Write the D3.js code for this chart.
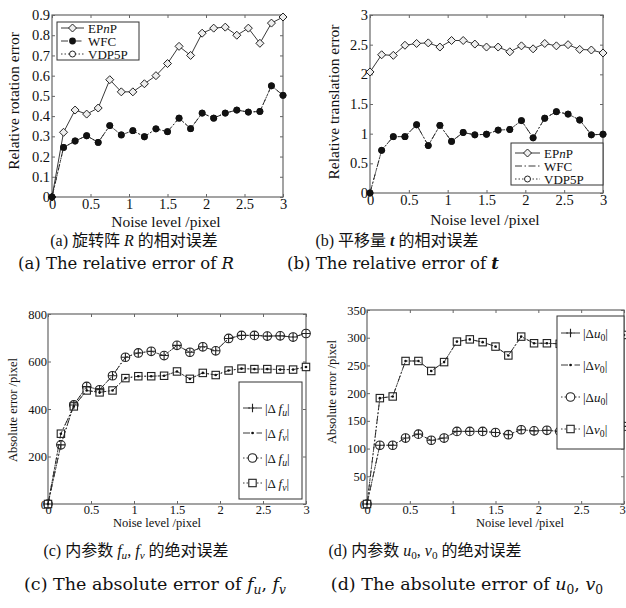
<!DOCTYPE html>
<html>
<head>
<meta charset="utf-8">
<script src="https://cdn.jsdelivr.net/npm/d3@7"></script>
<style>
  body { margin: 0; background: white; }
  svg text { font-family: "Liberation Serif", "Noto Sans CJK SC", serif; fill: #111; }
</style>
</head>
<body>
<div id="chart"></div>
<script>
// noise levels (x) shared by all four panels
const noise = [0, 0.15, 0.3, 0.45, 0.6, 0.75, 0.9, 1.05, 1.2, 1.35, 1.5, 1.65, 1.8, 1.95, 2.1, 2.25, 2.4, 2.55, 2.7, 2.85, 3];
const xTicks = [0, 0.5, 1, 1.5, 2, 2.5, 3];

// (a) relative rotation error
const rotEPnP   = [0, 0.32, 0.43, 0.41, 0.44, 0.58, 0.52, 0.52, 0.56, 0.60, 0.66, 0.745, 0.70, 0.81, 0.835, 0.84, 0.80, 0.835, 0.76, 0.86, 0.89];
const rotWFC    = [0, 0.245, 0.277, 0.303, 0.27, 0.353, 0.307, 0.328, 0.298, 0.337, 0.323, 0.39, 0.338, 0.415, 0.39, 0.415, 0.43, 0.42, 0.423, 0.55, 0.503];
const rotVDP5P  = [0, 0.245, 0.277, 0.303, 0.27, 0.353, 0.307, 0.328, 0.298, 0.337, 0.323, 0.39, 0.338, 0.415, 0.39, 0.415, 0.43, 0.42, 0.423, 0.55, 0.503];
const rotTicks  = [0, 0.1, 0.2, 0.3, 0.4, 0.5, 0.6, 0.7, 0.8, 0.9];

// (b) relative translation error
const transEPnP  = [2.04, 2.33, 2.32, 2.49, 2.52, 2.53, 2.46, 2.57, 2.57, 2.51, 2.46, 2.46, 2.38, 2.48, 2.43, 2.52, 2.48, 2.50, 2.42, 2.41, 2.36];
const transWFC   = [0, 0.72, 0.95, 0.95, 1.15, 0.80, 1.14, 0.87, 1.02, 0.98, 0.99, 1.06, 1.07, 1.22, 0.93, 1.26, 1.37, 1.33, 1.23, 0.98, 0.99];
const transVDP5P = [0, 0.72, 0.95, 0.95, 1.15, 0.80, 1.14, 0.87, 1.02, 0.98, 0.99, 1.06, 1.07, 1.22, 0.93, 1.26, 1.37, 1.33, 1.23, 0.98, 0.99];
const transTicks = [0, 0.5, 1, 1.5, 2, 2.5, 3];

// (c) absolute error of fu, fv
const fuErr  = [0, 249, 417, 495, 481, 540, 618, 636, 643, 625, 668, 639, 662, 645, 697, 710, 710, 707, 708, 703, 718];
const fvErr  = [0, 296, 411, 478, 470, 478, 530, 538, 538, 540, 558, 527, 552, 543, 562, 570, 568, 568, 566, 566, 577];
const fTicks = [0, 200, 400, 600, 800];

// (d) absolute error of u0, v0
const u0Err  = [0, 106, 106, 119, 126, 115, 119, 131, 131, 131, 129, 125, 134, 132, 133, 131, 134, 136, 137, 138, 140];
const v0Err  = [0, 191, 194, 258, 258, 240, 256, 293, 297, 292, 284, 268, 302, 290, 290, 289, 295, 298, 300, 302, 305];
const uvTicks = [0, 50, 100, 150, 200, 250, 300, 350];

const svg = d3.select("#chart").append("svg")
    .attr("width", 626)
    .attr("height", 608);

const serif = "'Liberation Serif', 'Noto Sans CJK SC', serif";
const capSerif = "'DejaVu Serif', 'Noto Sans CJK SC', serif";
const lineCol = "#222";
const boxCol = "#666";
const dashDot = "7,2.5,1.5,2.5";
const dotted = "1.5,2";

// marker drawing
function marker(g, type, x, y) {
    if (type == "diamond") {
        g.append("path").attr("d", `M${x},${y-4}L${x+4},${y}L${x},${y+4}L${x-4},${y}Z`)
            .attr("fill", "#eee").attr("stroke", lineCol).attr("stroke-width", 1);
    } else if (type == "dot") {
        g.append("circle").attr("cx", x).attr("cy", y).attr("r", 3.4).attr("fill", "#111");
    } else if (type == "ocircle") {
        g.append("circle").attr("cx", x).attr("cy", y).attr("r", 3)
            .attr("fill", "white").attr("stroke", lineCol).attr("stroke-width", 1);
    } else if (type == "bigcircle") {
        g.append("circle").attr("cx", x).attr("cy", y).attr("r", 4.3)
            .attr("fill", "white").attr("stroke", lineCol).attr("stroke-width", 1.1);
    } else if (type == "plus") {
        g.append("path").attr("d", `M${x-4.3},${y}H${x+4.3}M${x},${y-4.3}V${y+4.3}`)
            .attr("stroke", lineCol).attr("stroke-width", 1.1);
    } else if (type == "square") {
        g.append("rect").attr("x", x-3.7).attr("y", y-3.7).attr("width", 7.4).attr("height", 7.4)
            .attr("fill", "white").attr("stroke", lineCol).attr("stroke-width", 1.1);
    } else if (type == "smalldot") {
        g.append("circle").attr("cx", x).attr("cy", y).attr("r", 1.3).attr("fill", "#111");
    }
}

// rich text with italic / subscript / bold parts
function richText(sel, parts, subSize) {
    parts.forEach(p => {
        const t = sel.append("tspan").text(p.t);
        if (p.it) t.style("font-style", "italic");
        if (p.bold) t.style("font-weight", "bold");
        if (p.sub) t.attr("baseline-shift", "-30%").style("font-size", subSize);
    });
}

function drawPanel(p) {
    const g = svg.append("g");
    const x = d3.scaleLinear().domain([0, 3]).range([p.left, p.right]);
    const y = d3.scaleLinear().domain([0, p.yMax]).range([p.bottom, p.top]);
    const fmt = d3.format("~g");

    const styleAxis = a => {
        a.select(".domain").remove();
        a.attr("font-family", null);
        a.selectAll("line").attr("stroke", boxCol);
        a.selectAll("text").style("font-family", serif).style("font-size", p.tickSize + "px").attr("fill", "#111");
    };

    g.append("g")
        .attr("transform", `translate(0,${p.bottom})`)
        .call(d3.axisBottom(x).tickValues(xTicks).tickFormat(fmt).tickSize(-3).tickPadding(p.tickPad))
        .call(styleAxis)
        .call(a => a.selectAll("text").filter(d => d == 3).attr("dx", p.lastDx || 0));
    g.append("g")
        .attr("transform", `translate(0,${p.top})`)
        .call(d3.axisTop(x).tickValues(xTicks).tickFormat("").tickSize(-3))
        .call(styleAxis);
    g.append("g")
        .attr("transform", `translate(${p.left},0)`)
        .call(d3.axisLeft(y).tickValues(p.yTicks).tickFormat(fmt).tickSize(-3).tickPadding(p.tickPad))
        .call(styleAxis);
    g.append("g")
        .attr("transform", `translate(${p.right},0)`)
        .call(d3.axisRight(y).tickValues(p.yTicks).tickFormat("").tickSize(-3))
        .call(styleAxis);

    g.append("rect")
        .attr("x", p.left).attr("y", p.top)
        .attr("width", p.right - p.left).attr("height", p.bottom - p.top)
        .attr("fill", "none").attr("stroke", boxCol).attr("stroke-width", 1.2);

    const line = d3.line().x((d, i) => x(noise[i])).y(d => y(d));
    p.series.slice().sort((a, b) => a.layer - b.layer).forEach(s => {
        g.append("path")
            .attr("d", line(s.values))
            .attr("fill", "none")
            .attr("stroke", lineCol)
            .attr("stroke-width", 0.9)
            .attr("stroke-dasharray", s.dash);
        (s.plotMarkers || s.markers).forEach(m => s.values.forEach((v, i) => marker(g, m, x(noise[i]), y(v))));
    });

    // axis labels
    g.append("text")
        .attr("x", p.xLabelX).attr("y", p.xLabelY)
        .attr("text-anchor", "middle")
        .style("font-family", serif)
        .style("font-size", p.labelSize + "px")
        .text(p.xLabel);
    g.append("text")
        .attr("transform", `translate(${p.yLabelX},${p.yLabelY}) rotate(-90)`)
        .attr("text-anchor", "middle")
        .style("font-family", serif)
        .style("font-size", p.labelSize + "px")
        .text(p.yLabel);

    // legend
    const L = p.legend;
    const lg = g.append("g");
    lg.append("rect")
        .attr("x", L.x).attr("y", L.y).attr("width", L.w).attr("height", L.h)
        .attr("fill", "white").attr("stroke", "#333").attr("stroke-width", 1);
    p.series.forEach((s, i) => {
        const yy = L.y + L.first + i * L.step;
        lg.append("path")
            .attr("d", `M${L.x + L.lx0},${yy}H${L.x + L.lx1}`)
            .attr("stroke", lineCol).attr("stroke-width", 0.9)
            .attr("stroke-dasharray", s.dash);
        s.markers.forEach(m => marker(lg, m, L.x + (L.lx0 + L.lx1) / 2, yy));
        const t = lg.append("text")
            .attr("x", L.x + L.tx).attr("y", yy)
            .attr("dy", "0.35em")
            .style("font-family", serif)
            .style("font-size", L.size + "px");
        richText(t, s.label, (L.size * 0.75) + "px");
    });
}

drawPanel({
    left: 52, right: 283, top: 15, bottom: 197, yMax: 0.9, yTicks: rotTicks,
    tickSize: 14.5, tickPad: 2, labelSize: 15.5,
    xLabel: "Noise level  /pixel", xLabelX: 166, xLabelY: 227,
    yLabel: "Relative rotation error", yLabelX: 19, yLabelY: 101,
    series: [
        {label: [{t: "EP"}, {t: "n", it: true}, {t: "P"}], values: rotEPnP, dash: null, markers: ["diamond"], layer: 1},
        {label: [{t: "WFC"}], values: rotWFC, dash: dashDot, markers: ["dot"], layer: 2},
        {label: [{t: "VDP5P"}], values: rotVDP5P, dash: dotted, markers: ["ocircle"], layer: 0}
    ],
    legend: {x: 57, y: 22, w: 82, h: 38, first: 6, step: 13, lx0: 4, lx1: 27, tx: 31, size: 13}
});

drawPanel({
    left: 370, right: 603, top: 15, bottom: 193, yMax: 3, yTicks: transTicks,
    tickSize: 14.5, tickPad: 2, labelSize: 15.5,
    xLabel: "Noise level  /pixel", xLabelX: 485, xLabelY: 225,
    yLabel: "Relative translation error", yLabelX: 339, yLabelY: 102,
    series: [
        {label: [{t: "EP"}, {t: "n", it: true}, {t: "P"}], values: transEPnP, dash: null, markers: ["diamond"], layer: 1},
        {label: [{t: "WFC"}], values: transWFC, dash: dashDot, markers: [], plotMarkers: ["dot"], layer: 2},
        {label: [{t: "VDP5P"}], values: transVDP5P, dash: dotted, markers: ["ocircle"], layer: 0}
    ],
    legend: {x: 511, y: 143, w: 92, h: 42, first: 10, step: 13, lx0: 4, lx1: 29, tx: 33, size: 13}
});

drawPanel({
    left: 48, right: 306, top: 314, bottom: 504, yMax: 800, yTicks: fTicks,
    tickSize: 12.5, tickPad: 1, labelSize: 12.5,
    xLabel: "Noise level /pixel", xLabelX: 157, xLabelY: 527,
    yLabel: "Absolute error /pixel", yLabelX: 17, yLabelY: 410,
    series: [
        {label: [{t: "|Δ "}, {t: "f", it: true}, {t: "u", it: true, sub: true}, {t: "|"}], values: fuErr, dash: dashDot, markers: ["plus"], layer: 2},
        {label: [{t: "|Δ "}, {t: "f", it: true}, {t: "v", it: true, sub: true}, {t: "|"}], values: fvErr, dash: dashDot, markers: ["smalldot"], layer: 3},
        {label: [{t: "|Δ "}, {t: "f", it: true}, {t: "u", it: true, sub: true}, {t: "|"}], values: fuErr, dash: dotted, markers: ["bigcircle"], layer: 0},
        {label: [{t: "|Δ "}, {t: "f", it: true}, {t: "v", it: true, sub: true}, {t: "|"}], values: fvErr, dash: dotted, markers: ["square"], layer: 1}
    ],
    legend: {x: 239, y: 382, w: 63, h: 117, first: 26, step: 25, lx0: 4, lx1: 23, tx: 26, size: 13}
});

drawPanel({
    left: 367, right: 624, top: 310, bottom: 504, yMax: 350, yTicks: uvTicks,
    tickSize: 12.5, tickPad: 1, labelSize: 12.5, lastDx: -2,
    xLabel: "Noise level /pixel", xLabelX: 520, xLabelY: 527,
    yLabel: "Absolute error /pixel", yLabelX: 336, yLabelY: 392,
    series: [
        {label: [{t: "|Δ"}, {t: "u", it: true}, {t: "0", sub: true}, {t: "|"}], values: u0Err, dash: dashDot, markers: ["plus"], layer: 2},
        {label: [{t: "|Δ"}, {t: "v", it: true}, {t: "0", sub: true}, {t: "|"}], values: v0Err, dash: dashDot, markers: ["smalldot"], layer: 3},
        {label: [{t: "|Δ"}, {t: "u", it: true}, {t: "0", sub: true}, {t: "|"}], values: u0Err, dash: dotted, markers: ["bigcircle"], layer: 0},
        {label: [{t: "|Δ"}, {t: "v", it: true}, {t: "0", sub: true}, {t: "|"}], values: v0Err, dash: dotted, markers: ["square"], layer: 1}
    ],
    legend: {x: 557, y: 316, w: 67, h: 133, first: 17, step: 32, lx0: 4, lx1: 23, tx: 26, size: 13}
});

// captions
const captions = [
    {x: 134, y: 246, size: 16, font: serif, parts: [{t: "(a) 旋转阵 "}, {t: "R", it: true}, {t: " 的相对误差"}]},
    {x: 397, y: 246, size: 16, font: serif, parts: [{t: "(b) 平移量 "}, {t: "t", it: true, bold: true}, {t: " 的相对误差"}]},
    {x: 126, y: 269, size: 16.5, font: capSerif, parts: [{t: "(a) The relative error of "}, {t: "R", it: true}]},
    {x: 393, y: 269, size: 16.5, font: capSerif, parts: [{t: "(b) The relative error of "}, {t: "t", it: true, bold: true}]},
    {x: 136, y: 556, size: 16, font: serif, parts: [{t: "(c) 内参数 "}, {t: "f", it: true}, {t: "u", it: true, sub: true}, {t: ", "}, {t: "f", it: true}, {t: "v", it: true, sub: true}, {t: " 的绝对误差"}]},
    {x: 425, y: 556, size: 16, font: serif, parts: [{t: "(d) 内参数 "}, {t: "u", it: true}, {t: "0", sub: true}, {t: ", "}, {t: "v", it: true}, {t: "0", sub: true}, {t: " 的绝对误差"}]},
    {x: 155, y: 590, size: 17.5, font: capSerif, parts: [{t: "(c) The absolute error of "}, {t: "f", it: true}, {t: "u", it: true, sub: true}, {t: ", "}, {t: "f", it: true}, {t: "v", it: true, sub: true}]},
    {x: 467, y: 590, size: 17.5, font: capSerif, parts: [{t: "(d) The absolute error of "}, {t: "u", it: true}, {t: "0", sub: true}, {t: ", "}, {t: "v", it: true}, {t: "0", sub: true}]}
];
captions.forEach(c => {
    const t = svg.append("text")
        .attr("x", c.x).attr("y", c.y)
        .attr("text-anchor", "middle")
        .style("font-family", c.font)
        .style("font-size", c.size + "px");
    richText(t, c.parts, (c.size * 0.7) + "px");
});
</script>
</body>
</html>
